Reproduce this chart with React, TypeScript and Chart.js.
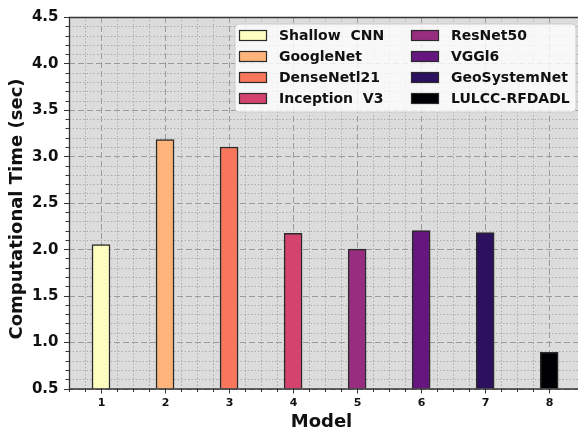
import React, { useEffect, useRef } from 'react';
import { Chart, registerables } from 'chart.js';

Chart.register(...registerables);

const models = [1, 2, 3, 4, 5, 6, 7, 8];
const modelNames = ['Shallow  CNN', 'GoogleNet', 'DenseNetl21', 'Inception  V3', 'ResNet50', 'VGGl6', 'GeoSystemNet', 'LULCC-RFDADL'];
const times = [2.05, 3.18, 3.10, 2.17, 2.00, 2.20, 2.18, 0.89];
const barColors = ['#fcfdbf', '#feb47b', '#f8765c', '#d3436e', '#982d80', '#65177f', '#2c115f', '#000004'];
const yTickValues = [0.5, 1.0, 1.5, 2.0, 2.5, 3.0, 3.5, 4.0, 4.5];
const xTickValues = [1, 2, 3, 4, 5, 6, 7, 8];
const yTitle = 'Computational Time (sec)';
const xTitle = 'Model';

const FONT = "'DejaVu Sans', 'Liberation Sans', sans-serif";
const isMult = (v: number, s: number) => Math.abs(v / s - Math.round(v / s)) < 1e-6;

const bgPlugin = {
  id: 'bgGrid',
  beforeDatasetsDraw(chart: any) {
    const { ctx, chartArea: a, scales } = chart;
    ctx.save();
    ctx.fillStyle = '#dcdcdc';
    ctx.fillRect(a.left, a.top, a.right - a.left, a.bottom - a.top);
    const drawLines = (major: boolean) => {
      ctx.beginPath();
      ctx.setLineDash(major ? [6, 3] : [1.5, 2]);
      ctx.strokeStyle = major ? '#9b9b9b' : '#adadad';
      ctx.lineWidth = 1;
      scales.x.ticks.forEach((t: any) => {
        const v = t.value;
        const isMaj = isMult(v, 1);
        if (!isMult(v, 0.25) || isMaj !== major) return;
        const px = Math.round(scales.x.getPixelForValue(v)) + 0.5;
        ctx.moveTo(px, a.top);
        ctx.lineTo(px, a.bottom);
      });
      scales.y.ticks.forEach((t: any) => {
        const v = t.value;
        const isMaj = isMult(v, 0.5);
        if (!isMult(v, 0.1) || isMaj !== major) return;
        const py = Math.round(scales.y.getPixelForValue(v)) + 0.5;
        ctx.moveTo(a.left, py);
        ctx.lineTo(a.right, py);
      });
      ctx.stroke();
    };
    drawLines(false);
    drawLines(true);
    ctx.restore();
  },
};

const legendPlugin = {
  id: 'innerLegend',
  afterDatasetsDraw(chart: any) {
    const { ctx } = chart;
    ctx.save();
    const bx = 235, by = 24, bw = 341, bh = 88, r = 4;
    ctx.beginPath();
    ctx.moveTo(bx + r, by);
    ctx.arcTo(bx + bw, by, bx + bw, by + bh, r);
    ctx.arcTo(bx + bw, by + bh, bx, by + bh, r);
    ctx.arcTo(bx, by + bh, bx, by, r);
    ctx.arcTo(bx, by, bx + bw, by, r);
    ctx.closePath();
    ctx.fillStyle = 'rgba(255,255,255,0.8)';
    ctx.fill();
    ctx.strokeStyle = '#cccccc';
    ctx.lineWidth = 1;
    ctx.stroke();
    ctx.font = `bold 14px ${FONT}`;
    ctx.textBaseline = 'middle';
    ctx.textAlign = 'left';
    modelNames.forEach((name, i) => {
      const col = Math.floor(i / 4);
      const row = i % 4;
      const cy = 35.5 + row * 21;
      const px = col === 0 ? 239.5 : 411.5;
      const tx = col === 0 ? 279 : 451;
      ctx.fillStyle = barColors[i];
      ctx.fillRect(px, cy - 5, 27, 10);
      ctx.strokeStyle = '#2a2a2a';
      ctx.lineWidth = 1.2;
      ctx.strokeRect(px, cy - 5, 27, 10);
      ctx.fillStyle = '#111111';
      ctx.fillText(name, tx, cy + 0.5);
    });
    ctx.restore();
  },
};

const axesPlugin = {
  id: 'axesDraw',
  afterDraw(chart: any) {
    const { ctx, chartArea: a, scales } = chart;
    ctx.save();
    ctx.strokeStyle = '#333333';
    ctx.lineWidth = 1;
    ctx.setLineDash([]);
    ctx.beginPath();
    scales.x.ticks.forEach((t: any) => {
      const v = t.value;
      if (!isMult(v, 0.25)) return;
      const len = isMult(v, 1) ? 5 : 3.5;
      const px = Math.round(scales.x.getPixelForValue(v)) + 0.5;
      ctx.moveTo(px, a.bottom);
      ctx.lineTo(px, a.bottom + len);
    });
    scales.y.ticks.forEach((t: any) => {
      const v = t.value;
      if (!isMult(v, 0.1)) return;
      const len = isMult(v, 0.5) ? 5 : 3.5;
      const py = Math.round(scales.y.getPixelForValue(v)) + 0.5;
      ctx.moveTo(a.left, py);
      ctx.lineTo(a.left - len, py);
    });
    ctx.stroke();
    // axis spines: left, top, bottom (right one lies outside the picture)
    ctx.lineWidth = 1.3;
    ctx.beginPath();
    ctx.moveTo(a.right, a.top + 0.5);
    ctx.lineTo(a.left + 0.5, a.top + 0.5);
    ctx.lineTo(a.left + 0.5, a.bottom + 0.5);
    ctx.lineTo(a.right, a.bottom + 0.5);
    ctx.stroke();

    // tick labels
    ctx.fillStyle = '#111111';
    ctx.font = `bold 15px ${FONT}`;
    ctx.textAlign = 'right';
    ctx.textBaseline = 'middle';
    yTickValues.forEach((v) => {
      ctx.fillText(v.toFixed(1), a.left - 10.5, scales.y.getPixelForValue(v) + 0.5);
    });
    ctx.font = `bold 11px ${FONT}`;
    ctx.textAlign = 'center';
    xTickValues.forEach((v) => {
      ctx.fillText(String(v), scales.x.getPixelForValue(v) + 0.5, 403);
    });
    // titles
    ctx.font = `bold 18px ${FONT}`;
    ctx.textAlign = 'center';
    ctx.fillText(xTitle, 321.5, 422.5);
    ctx.save();
    ctx.translate(17.5, 209);
    ctx.rotate(-Math.PI / 2);
    ctx.fillText(yTitle, 0, 0);
    ctx.restore();
    ctx.restore();
  },
};

export default function App() {
  const ref = useRef<HTMLCanvasElement | null>(null);
  useEffect(() => {
    document.body.style.margin = '0';
    if (!ref.current) return;
    const chart = new Chart(ref.current, {
      type: 'bar',
      data: {
        datasets: [
          {
            label: 'Computational Time',
            data: models.map((m, i) => ({ x: m, y: times[i] })),
            backgroundColor: barColors,
            borderColor: '#2a2a2a',
            borderWidth: 1.5,
            borderSkipped: false,
            barThickness: 18,
          } as any,
        ],
      },
      options: {
        responsive: false,
        animation: false,
        layout: { padding: { top: 17, left: 0, right: 0, bottom: 0 } },
        plugins: { legend: { display: false }, tooltip: { enabled: false } },
        scales: {
          x: {
            type: 'linear',
            offset: false,
            min: 0.5,
            max: 8.45,
            afterFit: (s: any) => { s.height = 41.5; },
            grid: { display: false, drawTicks: false },
            border: { display: false },
            ticks: { display: false, stepSize: 0.25, autoSkip: false, maxRotation: 0 },
            title: { display: false },
          },
          y: {
            type: 'linear',
            min: 0.5,
            max: 4.5,
            afterFit: (s: any) => { s.width = 69; },
            grid: { display: false, drawTicks: false },
            border: { display: false },
            ticks: { display: false, stepSize: 0.1, autoSkip: false },
            title: { display: false },
          },
        },
      } as any,
      plugins: [bgPlugin, legendPlugin, axesPlugin],
    });
    return () => chart.destroy();
  }, []);
  return (
    <div style={{ position: 'absolute', left: 0, top: 0, width: 578, height: 430 }}>
      <canvas ref={ref} width={578} height={430} style={{ width: 578, height: 430 }} />
    </div>
  );
}
